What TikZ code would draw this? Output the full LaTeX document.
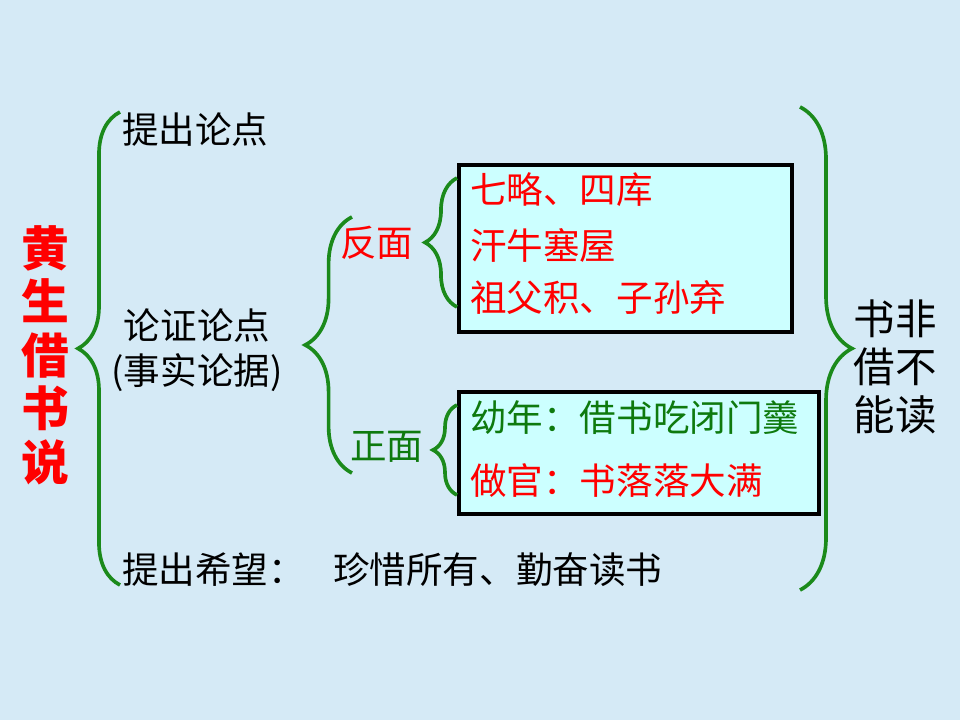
\documentclass[tikz,border=0pt]{standalone}
\usepackage{fontspec}
\usepackage{xcolor}
\newfontfamily\cjk{Noto Sans CJK SC}
\usetikzlibrary{decorations.pathreplacing}
\definecolor{paperblue}{HTML}{D5EAF6}
\definecolor{bracegreen}{HTML}{1B8A1B}
\definecolor{leafgreen}{HTML}{0E7A0E}
\definecolor{boxcyan}{HTML}{CCFFFF}

\tikzset{
  curly/.style={draw=bracegreen, line width=2.6pt, decorate,
    decoration={brace, amplitude=#1}},
  plaintext/.style={anchor=west, inner sep=0pt,
    font=\cjk\fontsize{26}{32}\selectfont},
  textbox/.style={draw=black, line width=2.6pt, fill=boxcyan,
    anchor=north west, inner sep=0pt}
}

\begin{document}
\begin{tikzpicture}[x=0.025cm, y=-0.025cm]
  % background
  \fill[paperblue] (0,0) rectangle (960,720);
  \useasboundingbox (0,0) rectangle (960,720);

  % title
  \node[inner sep=0pt, align=center, text=red,
    font=\cjk\bfseries\fontsize{34}{38}\selectfont] (title) at (45,355)
    {黄\\生\\借\\书\\说};

  % outer brace
  \draw[curly=1.05cm] (120,585) -- (120,112);

  \node[plaintext] (raise) at (122,130) {提出论点};
  \node[plaintext, anchor=center, align=center] (argue) at (197,350)
    {论证论点\\(事实论据)};
  \node[plaintext] (hope) at (122,570) {提出希望：};
  \node[plaintext] (hopetext) at (333,570) {珍惜所有、勤奋读书};

  % second level
  \draw[curly=1.17cm] (352,473) -- (352,217);
  \node[plaintext, text=red] (against) at (340,243) {反面};
  \node[plaintext, text=leafgreen] (support) at (350,447) {正面};

  % boxes
  \node[textbox, minimum width=8.33cm, minimum height=4.18cm] (againstbox)
    at (457,163) {};
  \node[textbox, minimum width=9cm, minimum height=3.05cm] (supportbox)
    at (457,390) {};

  \draw[curly=0.8cm] (457,307) -- (457,178);
  \draw[curly=0.6cm] (457,495) -- (457,405);

  \node[plaintext, text=red] (qilue) at (470,190) {七略、四库};
  \node[plaintext, text=red] (hanniu) at (470,245) {汗牛塞屋};
  \node[plaintext, text=red] (zufu) at (470,298) {祖父积、子孙弃};
  \node[plaintext, text=leafgreen] (young) at (470,418) {幼年：借书吃闭门羹};
  \node[plaintext, text=red] (official) at (470,481) {做官：书落落大满};

  % conclusion
  \draw[curly=1.3cm] (800,107) -- (800,590);
  \node[inner sep=0pt, align=center,
    font=\cjk\fontsize{29.5}{34}\selectfont] (verdict) at (895,367)
    {书非\\借不\\能读};
\end{tikzpicture}
\end{document}
